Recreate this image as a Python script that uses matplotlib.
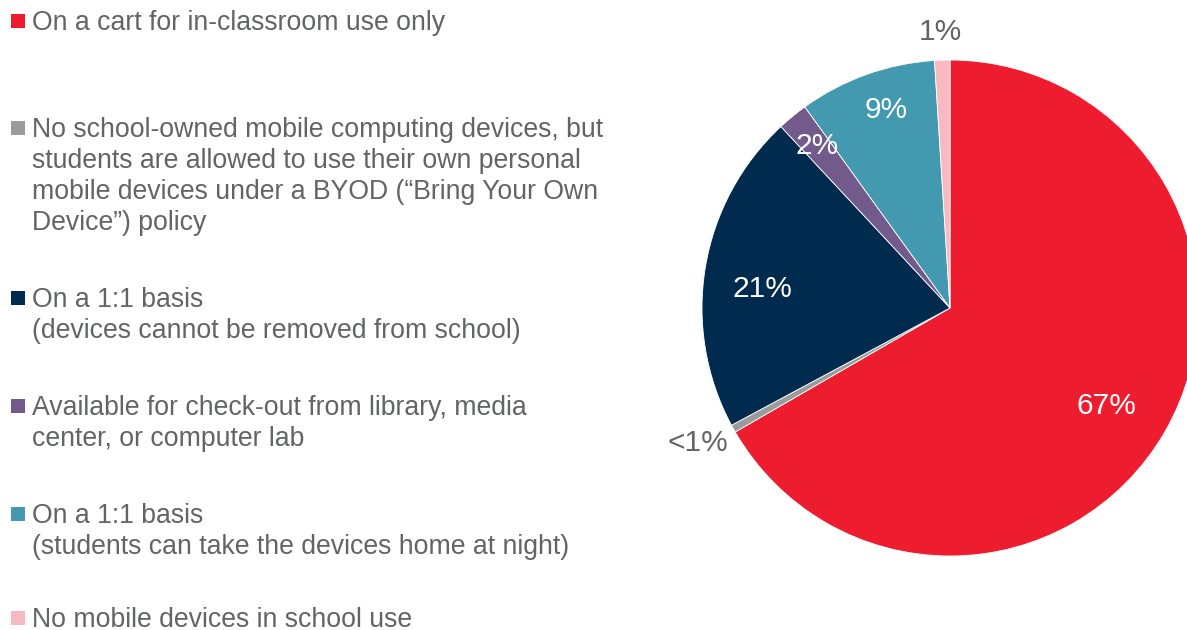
import matplotlib
matplotlib.use("Agg")
import matplotlib.pyplot as plt
import matplotlib.patches as mpatches

plt.rcParams["font.family"] = ["Liberation Sans", "DejaVu Sans"]

# Data
categories = [
    "On a cart for in-classroom use only",
    "No school-owned mobile computing devices, but\nstudents are allowed to use their own personal\nmobile devices under a BYOD (\u201cBring Your Own\nDevice\u201d) policy",
    "On a 1:1 basis\n(devices cannot be removed from school)",
    "Available for check-out from library, media\ncenter, or computer lab",
    "On a 1:1 basis\n(students can take the devices home at night)",
    "No mobile devices in school use",
]
shares = [67, 0.5, 21, 2, 9, 1]
pct_labels = ["67%", "<1%", "21%", "2%", "9%", "1%"]
colors = ["#ED1C2E", "#9B9B9B", "#002A4E", "#735A8D", "#4399B0", "#F8BAC0"]

# Layout (pixels, top-left origin)
W, H = 1187, 630
label_pos = [(1106, 406), (698, 443), (762, 289), (817, 146), (886, 110), (940, 32)]
label_col = ["white", "#636466", "white", "white", "white", "#636466"]
legend_y = [21, 128, 298, 406, 514, 618]
TEXT = "#636466"

fig = plt.figure(figsize=(W / 100, H / 100), dpi=100)
ax = fig.add_axes([0, 0, 1, 1])

ax.pie(shares, colors=colors, startangle=90, counterclock=False,
       center=(950, H - 308), radius=248, frame=True,
       wedgeprops=dict(edgecolor="white", linewidth=0.6))

for lab, (x, y), c in zip(pct_labels, label_pos, label_col):
    ax.text(x, H - y, lab, color=c, fontsize=21.5, ha="center", va="center")

# Legend drawn by hand on the left
for name, y, c in zip(categories, legend_y, colors):
    ax.add_patch(mpatches.Rectangle((11, H - y - 7), 14, 14, facecolor=c, edgecolor="none"))
    ax.text(32, H - y + 11, name, color=TEXT, fontsize=19.2, ha="left", va="top",
            linespacing=1.25)

ax.set_xlim(0, W)
ax.set_ylim(0, H)
ax.set_aspect("equal")
ax.axis("off")

fig.savefig("out.png", dpi=100)
